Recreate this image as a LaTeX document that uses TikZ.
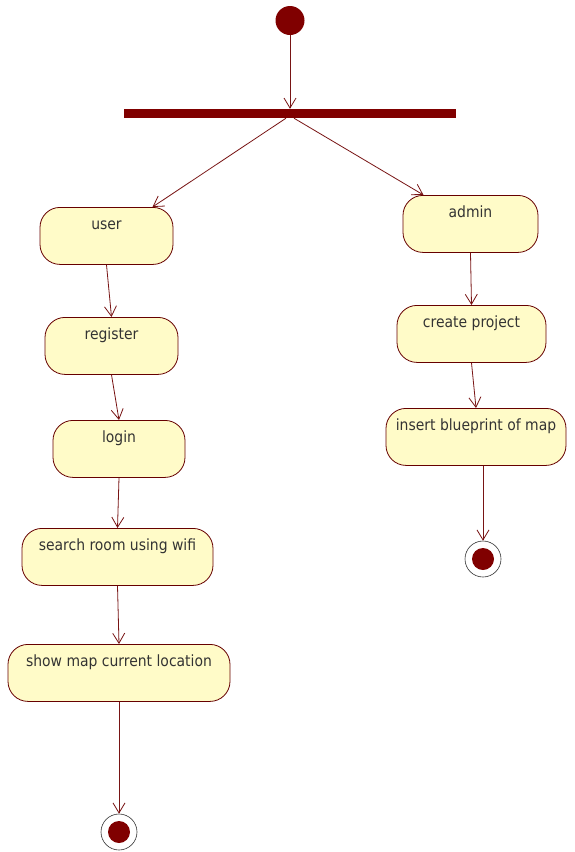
\documentclass[tikz,border=0pt]{standalone}
\usepackage{fontspec}
\setmainfont{DejaVu Sans Condensed}
\usetikzlibrary{arrows.meta,calc}
\definecolor{umlred}{RGB}{128,0,0}
\definecolor{umlline}{RGB}{120,20,20}
\definecolor{umlfill}{RGB}{255,251,200}
\tikzset{
  activity/.style={draw=umlred!80!black, line width=0.8pt, fill=umlfill, rounded corners=20pt,
    anchor=north, minimum height=57pt, inner sep=0pt, text height=22pt, text depth=35pt,
    font=\fontsize{15.5}{18}\selectfont, text=black!80},
  flow/.style={draw=umlline, line width=0.8pt, -{Straight Barb[length=10pt,width=12pt]}},
  startnode/.style={circle, fill=umlred, minimum size=29pt, inner sep=0pt},
  endnode/.style={circle, draw=black!80, line width=0.6pt, fill=white, minimum size=36pt, inner sep=0pt,
    path picture={\fill[umlred] (path picture bounding box.center) circle (11pt);}},
  syncbar/.style={rectangle, fill=umlred, minimum width=332pt, minimum height=9pt, inner sep=0pt}
}
\begin{document}
\begin{tikzpicture}[x=1pt,y=-1pt]
\useasboundingbox[fill=white] (0,0) rectangle (574,852);
\node[startnode] (start) at (290,20.5) {};
\node[syncbar] (bar) at (290,113.5) {};

\node[activity, minimum width=133pt] (user) at (106.5,207) {user};
\node[activity, minimum width=133pt] (register) at (111.5,317) {register};
\node[activity, minimum width=132pt] (login) at (119,420) {login};
\node[activity, minimum width=191pt] (search) at (117.5,528) {search room using wifi};
\node[activity, minimum width=222pt] (show) at (119,644) {show map current location};
\node[endnode] (endL) at (119,832) {};

\node[activity, minimum width=135pt] (admin) at (470.5,195) {admin};
\node[activity, minimum width=149pt] (create) at (471.5,305) {create project};
\node[activity, minimum width=180pt] (insert) at (476,408) {insert blueprint of map};
\node[endnode] (endR) at (483,559) {};

\draw[flow] (start.south) -- (bar.north);
\draw[flow] ($(bar.south)+(-4,0)$) -- ($(user.north)+(46,0)$);
\draw[flow] ($(bar.south)+(4,0)$) -- ($(admin.north)+(-47,0)$);
\draw[flow] (user.south) -- (register.north);
\draw[flow] (register.south) -- (login.north);
\draw[flow] (login.south) -- (search.north);
\draw[flow] (search.south) -- (show.north);
\draw[flow] (show.south) -- (endL.north);
\draw[flow] (admin.south) -- (create.north);
\draw[flow] (create.south) -- (insert.north);
\draw[flow] ($(insert.south)+(7,0)$) -- (endR.north);
\end{tikzpicture}
\end{document}
